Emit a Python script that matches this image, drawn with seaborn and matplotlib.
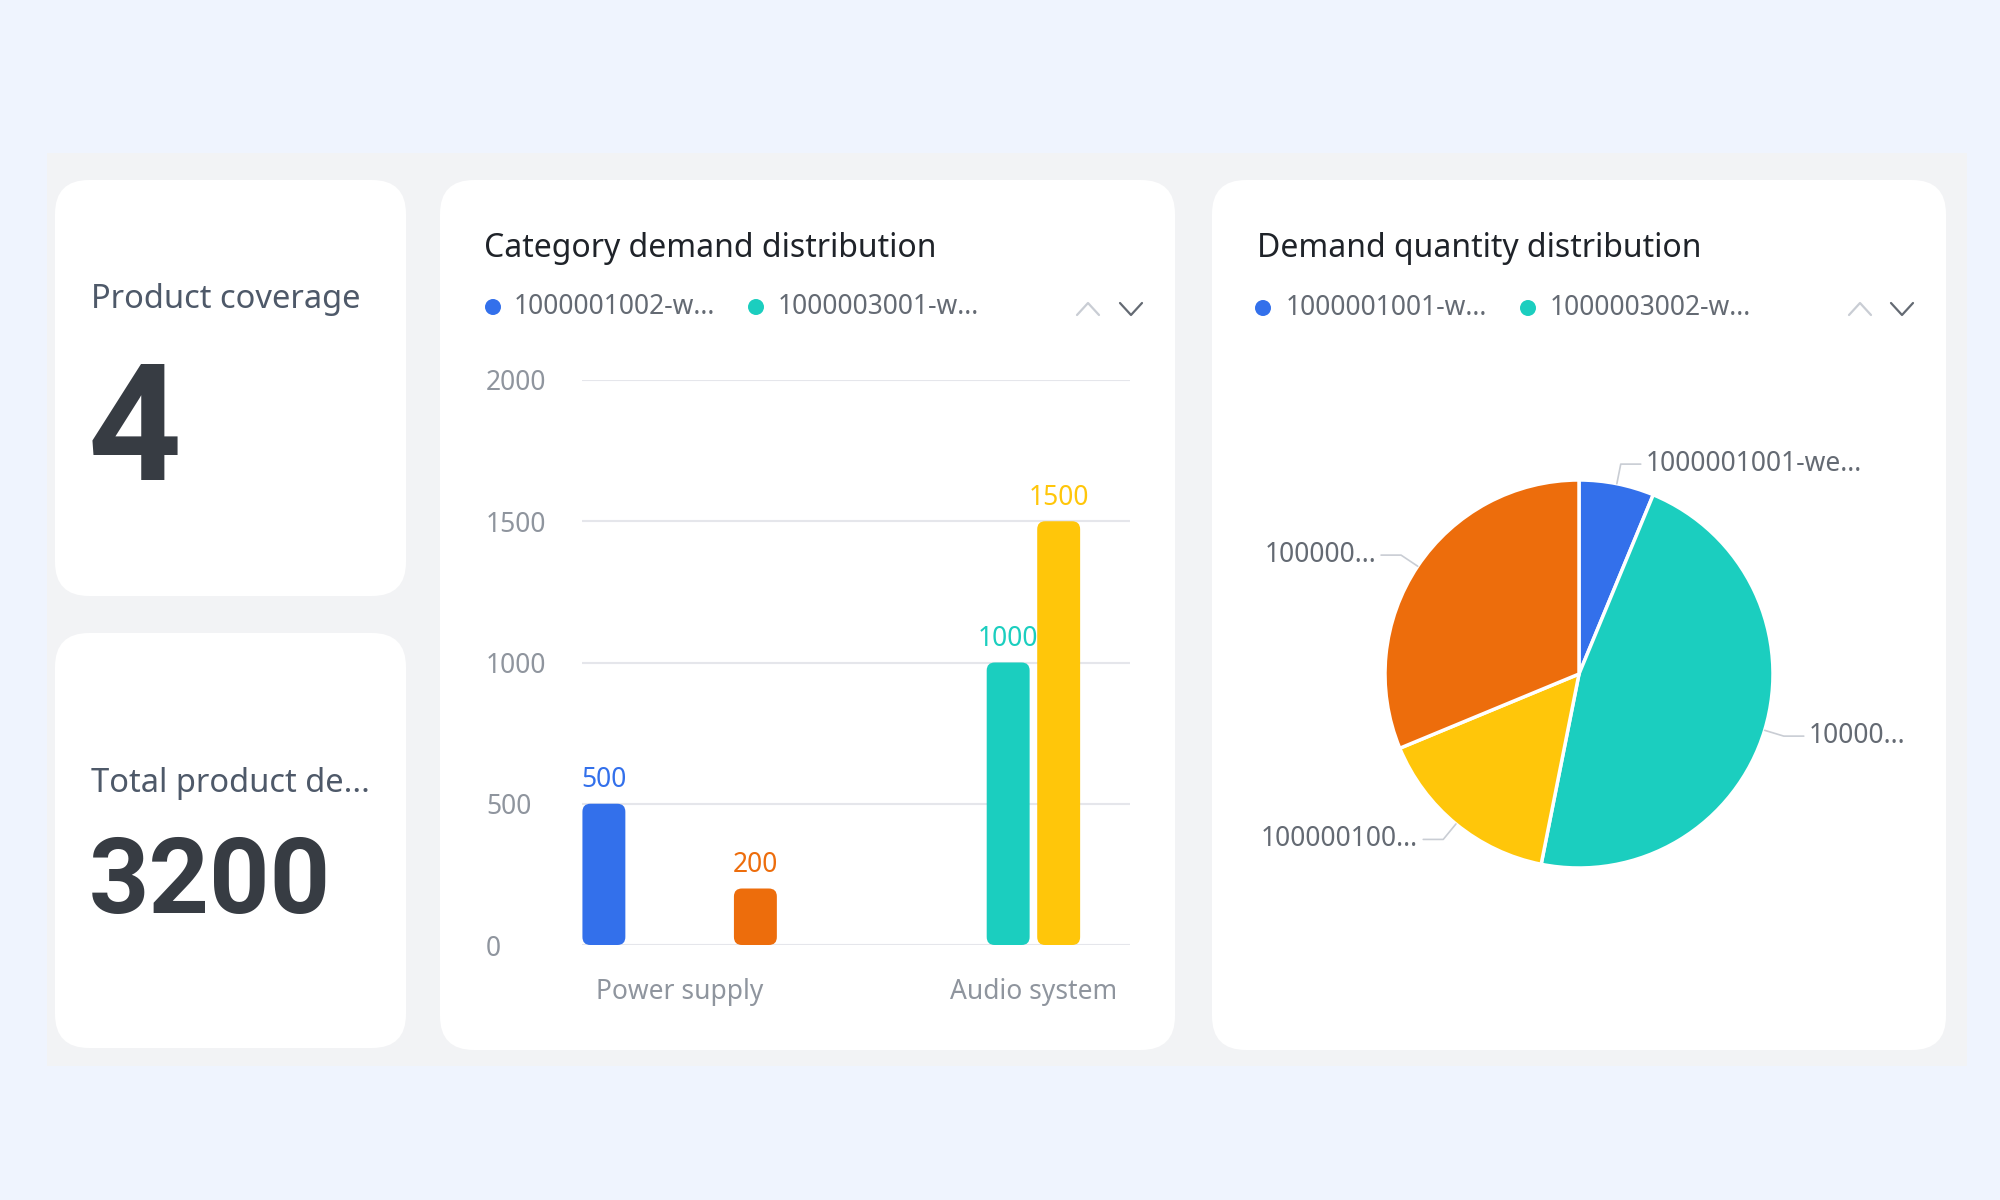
import numpy as np
import pandas as pd
import seaborn as sn
import matplotlib.pyplot as plt
from matplotlib.patches import FancyBboxPatch, Rectangle, Circle

# ---- data ----
kpi_titles = ["Product coverage", "Total product de..."]
kpi_values = ["4", "3200"]

bar_title = "Category demand distribution"
categories = ["Power supply", "Audio system"]
bar_series = ["1000001002-w...", "1000003001-w...", "1000002001-w...", "1000004001-w..."]
bar_category = ["Power supply", "Power supply", "Audio system", "Audio system"]
bar_series_of = ["1000001002-w...", "1000004001-w...", "1000003001-w...", "1000002001-w..."]
bar_value = [500, 200, 1000, 1500]
y_ticks = [0, 500, 1000, 1500, 2000]

pie_title = "Demand quantity distribution"
pie_legend = ["1000001001-w...", "1000003002-w..."]
pie_labels = ["1000001001-we...", "10000...", "100000100...", "100000..."]
pie_values = [200, 1500, 500, 1000]

series_colors = ["#3370EB", "#1BCEBF", "#FFC60A", "#ED6D0C"]

# ---- style ----
sn.set_style("white")
plt.rcParams["font.family"] = ["Noto Sans", "DejaVu Sans"]
TITLE_C = "#1F2329"
TEXT_C = "#646A73"
AXIS_C = "#8F959E"
GRID_C = "#E5E6EB"

fig = plt.figure(figsize=(20, 12), dpi=100)
fig.patch.set_facecolor("#EFF4FE")

# background layer in pixel units (y down)
bg = fig.add_axes([0, 0, 1, 1], zorder=-5)
bg.set_xlim(0, 2000)
bg.set_ylim(1200, 0)
bg.axis("off")
bg.add_patch(Rectangle((47, 153), 1920, 913, fc="#F2F3F5", ec="none"))
cards = [(55, 180, 351, 416), (55, 633, 351, 415), (440, 180, 735, 870), (1212, 180, 734, 870)]
for (cx, cy, cw, ch) in cards:
    bg.add_patch(FancyBboxPatch((cx, cy), cw, ch, boxstyle="round,pad=0,rounding_size=34",
                                fc="white", ec="none"))

# KPI cards
bg.text(91, 308, kpi_titles[0], fontsize=23.5, color="#4E5969", va="baseline")
bg.text(88, 480, kpi_values[0], fontsize=118, color="#373C43", fontweight="bold",
        family="Roboto", va="baseline")
bg.text(91, 792, kpi_titles[1], fontsize=23.5, color="#4E5969", va="baseline")
bg.text(89, 913, kpi_values[1], fontsize=76, color="#373C43", fontweight="bold",
        family="Roboto", va="baseline")

# card titles
bg.text(484, 257, bar_title, fontsize=23, color=TITLE_C, va="baseline")
bg.text(1257, 257, pie_title, fontsize=23, color=TITLE_C, va="baseline")


def draw_legend(names, colors, dots_x, text_x, y):
    for nm, col, dx, tx in zip(names, colors, dots_x, text_x):
        bg.add_patch(Circle((dx, y), 8, fc=col, ec="none"))
        bg.text(tx, y, nm, fontsize=19, color=TEXT_C, va="center")


def draw_pager(x_up, x_down, y):
    bg.plot([x_up - 11, x_up, x_up + 11], [y + 6, y - 6, y + 6], color="#C9CDD4", lw=1.6)
    bg.plot([x_down - 11, x_down, x_down + 11], [y - 6, y + 6, y - 6], color=TEXT_C, lw=1.6)


draw_legend(bar_series[:2], series_colors[:2], [493, 756], [514, 778], 307)
draw_pager(1088, 1131, 309)
draw_legend(pie_legend, series_colors[:2], [1263, 1528], [1286, 1550], 308)
draw_pager(1860, 1902, 309)

# ---- bar chart ----
df = pd.DataFrame({"category": bar_category, "series": bar_series_of, "value": bar_value})
ax = fig.add_axes([582 / 2000, 1 - 945 / 1200, 548 / 2000, 565 / 1200])
ax.set_facecolor("none")
sn.barplot(data=df, x="category", y="value", hue="series", hue_order=bar_series,
           order=categories, palette=series_colors, saturation=1, width=0.571, gap=0.15,
           dodge=True, errorbar=None, legend=False, ax=ax)
ax.set_xlim(-0.276, 1.273)
ax.set_ylim(0, 2000)
ax.set_yticks(y_ticks)
ax.set_xlabel("")
ax.set_ylabel("")
for s in ax.spines.values():
    s.set_visible(False)
ax.yaxis.grid(True, color=GRID_C, lw=1.5)
ax.set_axisbelow(True)
ax.tick_params(axis="y", length=0, pad=69, labelsize=19, labelcolor=AXIS_C)
ax.tick_params(axis="x", length=0, pad=24, labelsize=19, labelcolor=AXIS_C)
for lab in ax.get_yticklabels():
    lab.set_ha("left")

for cont in ax.containers:
    col = cont.patches[0].get_facecolor()
    ax.bar_label(cont, labels=[f"{int(v)}" for v in cont.datavalues], padding=7,
                 fontsize=19, color=col)

# rounded bar corners
px_x = 548 / (ax.get_xlim()[1] - ax.get_xlim()[0])
px_y = 565 / (ax.get_ylim()[1] - ax.get_ylim()[0])
radius = 8 / px_x
for p in list(ax.patches):
    h = p.get_height()
    if not np.isfinite(h) or h <= 0:
        continue
    rb = FancyBboxPatch((p.get_x(), p.get_y()), p.get_width(), h,
                        boxstyle=f"round,pad=0,rounding_size={radius}",
                        mutation_aspect=px_x / px_y, fc=p.get_facecolor(), ec="none", zorder=3)
    ax.add_patch(rb)
    p.set_visible(False)

# ---- pie chart ----
pr = 194
pax = fig.add_axes([(1579 - 350) / 2000, 1 - (674 + 350) / 1200, 700 / 2000, 700 / 1200])
wedges, _ = pax.pie(pie_values, colors=series_colors, startangle=90, counterclock=False,
                    wedgeprops=dict(edgecolor="white", linewidth=2.5))
lim = 350 / pr
pax.set_xlim(-lim, lim)
pax.set_ylim(-lim, lim)
pax.axis("off")
l1 = 20 / pr
l2 = 20 / pr
for w, lab in zip(wedges, pie_labels):
    ang = np.deg2rad((w.theta1 + w.theta2) / 2)
    c, s = np.cos(ang), np.sin(ang)
    x1, y1 = c, s
    x2, y2 = c * (1 + l1), s * (1 + l1)
    sgn = 1 if c >= 0 else -1
    x3 = x2 + sgn * l2
    pax.plot([x1, x2, x3], [y1, y2, y2], color="#C9CDD4", lw=1.2)
    pax.text(x3 + sgn * 5 / pr, y2, lab, fontsize=19, color=TEXT_C, va="center",
             ha="left" if sgn > 0 else "right")

plt.savefig("out.png", dpi=100, facecolor=fig.get_facecolor())
plt.close(fig)
